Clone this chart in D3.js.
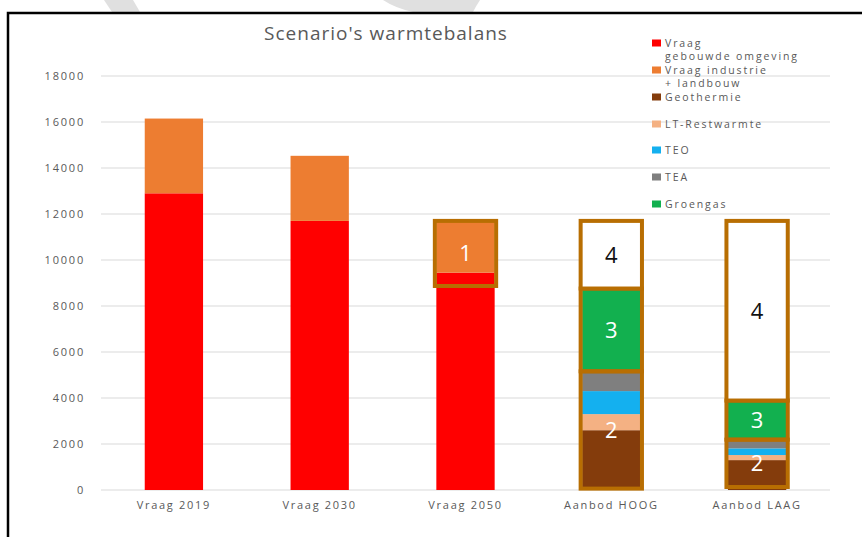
<!DOCTYPE html>
<html>
<head>
<meta charset="utf-8">
<script src="https://cdn.jsdelivr.net/npm/d3@7"></script>
<style>
  body { margin: 0; background: #fff; }
  text { font-family: "Open Sans", sans-serif; fill: #595959; }
</style>
</head>
<body>
<div id="chart"></div>
<script>
// categories on the x axis
var categories = ["Vraag 2019", "Vraag 2030", "Vraag 2050", "Aanbod HOOG", "Aanbod LAAG"];

// series (stack order bottom -> top), one value per category
var seriesNames = ["Vraag gebouwde omgeving", "Vraag industrie + landbouw", "Geothermie",
  "LT-Restwarmte", "TEO", "TEA", "Groengas"];
var seriesColors = ["#ff0000", "#ed7d31", "#843c0c", "#f4b183", "#14b0ef", "#7f7f7f", "#12b04f"];
var gebouwde = [12900, 11700, 9450, 0, 0];
var industrie = [3250, 2830, 2200, 0, 0];
var geothermie = [0, 0, 0, 2600, 1300];
var restwarmte = [0, 0, 0, 700, 220];
var teo = [0, 0, 0, 1000, 290];
var tea = [0, 0, 0, 860, 380];
var groengas = [0, 0, 0, 3600, 1700];

// legend lines (some entries wrap)
var legendLines = [["Vraag", "gebouwde omgeving"], ["Vraag industrie", "+ landbouw"], ["Geothermie"],
  ["LT-Restwarmte"], ["TEO"], ["TEA"], ["Groengas"]];

// numbered boxes drawn over the bars
var boxCats = ["Vraag 2050", "Aanbod HOOG", "Aanbod HOOG", "Aanbod HOOG", "Aanbod LAAG", "Aanbod LAAG", "Aanbod LAAG"];
var boxFrom = [8870, 60, 5160, 8760, 130, 2190, 3890];
var boxTo = [11700, 5160, 8760, 11700, 2190, 3890, 11700];
var boxLabels = ["1", "2", "3", "4", "2", "3", "4"];

var yTicks = [0, 2000, 4000, 6000, 8000, 10000, 12000, 14000, 16000, 18000];

var W = 862, H = 537;
var svg = d3.select("#chart").append("svg")
  .attr("width", W)
  .attr("height", H);

// grey watermark fragments above the frame
svg.append("path")
  .attr("d", "M104,0 L133,0 L140,12 L112,12 Z")
  .attr("fill", "#e0e0e0");
svg.append("path")
  .attr("d", "M383,0 Q395,8 413,12 L473,12 Q476,6 480,0 Z")
  .attr("fill", "#e0e0e0");

// frame
svg.append("path")
  .attr("d", "M8," + H + " V13 H" + W)
  .attr("fill", "none")
  .attr("stroke", "#000")
  .attr("stroke-width", 2.5);

var x = d3.scaleBand()
  .domain(categories)
  .range([101, 830])
  .paddingInner(0.6)
  .paddingOuter(0.3);

var y = d3.scaleLinear()
  .domain([0, 18000])
  .range([490, 76]);

// gridlines
svg.append("g")
  .selectAll("line")
  .data(yTicks)
  .join("line")
  .attr("x1", 101)
  .attr("x2", 830)
  .attr("y1", function (d) { return y(d); })
  .attr("y2", function (d) { return y(d); })
  .attr("stroke", "#d9d9d9")
  .attr("stroke-width", 1);

// y axis labels
var yAxis = svg.append("g")
  .attr("transform", "translate(101,0)")
  .call(d3.axisLeft(y).tickValues(yTicks).tickSize(0).tickPadding(16).tickFormat(d3.format("d")));
yAxis.select(".domain").remove();
yAxis.selectAll("text")
  .style("font-family", "'Open Sans', sans-serif")
  .style("font-size", "11px")
  .style("letter-spacing", "1.8px")
  .attr("fill", "#595959");

// x axis labels
var xAxis = svg.append("g")
  .attr("transform", "translate(0,490)")
  .call(d3.axisBottom(x).tickSize(0).tickPadding(11));
xAxis.select(".domain").remove();
xAxis.selectAll("text")
  .style("font-family", "'Open Sans', sans-serif")
  .style("font-size", "11px")
  .style("letter-spacing", "1.7px")
  .attr("fill", "#595959");

// stacked bars
var table = categories.map(function (c, i) {
  return {
    cat: c,
    s0: gebouwde[i], s1: industrie[i], s2: geothermie[i], s3: restwarmte[i],
    s4: teo[i], s5: tea[i], s6: groengas[i]
  };
});
var stack = d3.stack().keys(["s0", "s1", "s2", "s3", "s4", "s5", "s6"]);
var layers = stack(table);

svg.append("g")
  .selectAll("g")
  .data(layers)
  .join("g")
  .attr("fill", function (d, i) { return seriesColors[i]; })
  .selectAll("rect")
  .data(function (d) { return d.filter(function (p) { return p[1] > p[0]; }); })
  .join("rect")
  .attr("x", function (d) { return x(d.data.cat); })
  .attr("width", x.bandwidth())
  .attr("y", function (d) { return y(d[1]); })
  .attr("height", function (d) { return y(d[0]) - y(d[1]); });

// numbered boxes
var boxes = boxCats.map(function (c, i) {
  return { cat: c, from: boxFrom[i], to: boxTo[i], label: boxLabels[i] };
});
var bg = svg.append("g");
bg.selectAll("rect")
  .data(boxes)
  .join("rect")
  .attr("x", function (d) { return x(d.cat) - 1.5; })
  .attr("width", x.bandwidth() + 3)
  .attr("y", function (d) { return y(d.to); })
  .attr("height", function (d) { return y(d.from) - y(d.to); })
  .attr("fill", function (d) { return d.label === "4" ? "#fff" : "none"; })
  .attr("stroke", "#b86e02")
  .attr("stroke-width", 4);
bg.selectAll("text")
  .data(boxes)
  .join("text")
  .attr("x", function (d) { return x(d.cat) + x.bandwidth() / 2; })
  .attr("y", function (d) { return (y(d.from) + y(d.to)) / 2; })
  .attr("dy", "0.36em")
  .attr("text-anchor", "middle")
  .style("font-size", "22px")
  .style("fill", function (d) { return d.label === "4" ? "#111" : "#fff"; })
  .text(function (d) { return d.label; });

// title
svg.append("text")
  .attr("x", 386)
  .attr("y", 40)
  .attr("text-anchor", "middle")
  .style("font-size", "19px")
  .style("letter-spacing", "1px")
  .text("Scenario's warmtebalans");

// legend
var legendY = [43, 70, 97, 124, 150, 177, 204];
var lg = svg.append("g");
seriesNames.forEach(function (name, i) {
  lg.append("rect")
    .attr("x", 652)
    .attr("y", legendY[i] - 3.5)
    .attr("width", 9)
    .attr("height", 7)
    .attr("fill", seriesColors[i]);
  var t = lg.append("text")
    .attr("x", 665)
    .attr("y", legendY[i])
    .style("font-size", "10.5px")
    .style("letter-spacing", "1.9px");
  legendLines[i].forEach(function (line, j) {
    t.append("tspan")
      .attr("x", 665)
      .attr("dy", j === 0 ? "0.35em" : "13.5px")
      .text(line);
  });
});
</script>
</body>
</html>
